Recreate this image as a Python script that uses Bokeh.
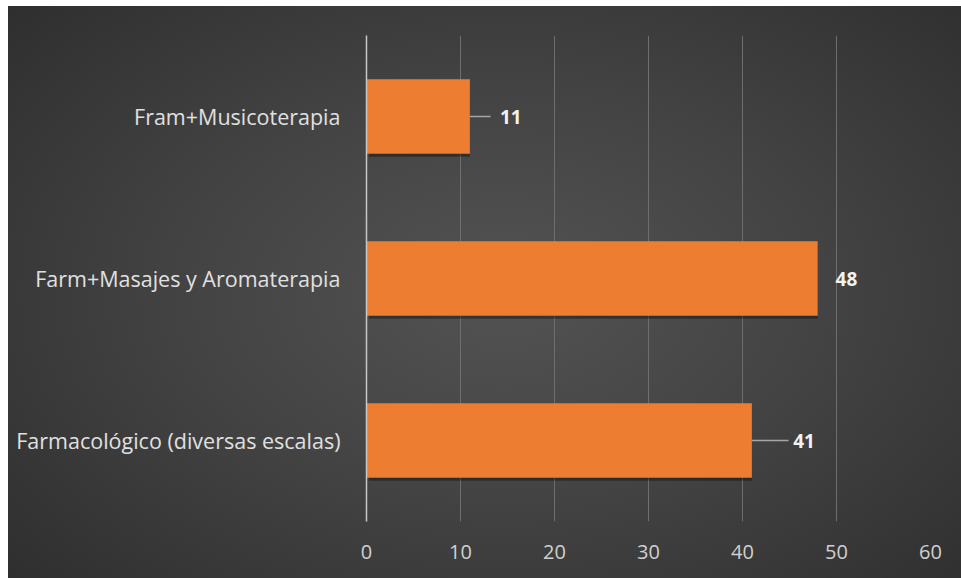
from bokeh.plotting import figure
from bokeh.models import ColumnDataSource, FactorRange, Range1d, FixedTicker
from bokeh.transform import dodge
from bokeh.core.properties import value
from bokeh.embed import file_html
from bokeh.resources import INLINE

# Treatment groups (bottom to top) and their counts
categories = ["Farmacológico (diversas escalas)", "Farm+Masajes y Aromaterapia", "Fram+Musicoterapia"]
counts = [41, 48, 11]
x_ticks = [0, 10, 20, 30, 40, 50, 60]

# data-label placement: leader length and text gap (in axis units)
leader = [3.9, 0.0, 2.2]
gap = [0.5, 1.9, 1.0]

FONT = "Open Sans"
BAR = "#ED7D31"

src = ColumnDataSource(dict(
    cat=categories,
    val=counts,
    line_end=[v + l for v, l in zip(counts, leader)],
    label_x=[v + l + g for v, l, g in zip(counts, leader, gap)],
    label=[str(v) for v in counts],
))

p = figure(
    width=953, height=572,
    y_range=FactorRange(*categories, range_padding=0),
    x_range=Range1d(0, 60),
    output_backend="svg", toolbar_location=None,
    min_border_left=358, min_border_right=31,
    min_border_top=29, min_border_bottom=57,
    margin=(6, 0, 0, 8),
    styles={"background": "radial-gradient(ellipse 75% 80% at 52% 50%, #535353 0%, #434343 45%, #2c2c2c 100%)"},
)
p.border_fill_alpha = 0
p.background_fill_alpha = 0
p.outline_line_color = None

# soft drop shadow under each bar
p.hbar(y=dodge("cat", -0.018, range=p.y_range), left=0.25,
       right="val", height=0.46, source=src,
       fill_color="black", fill_alpha=0.35, line_color=None)
p.hbar(y="cat", left=0, right="val", height=0.46, source=src,
       fill_color=BAR, line_color=None)

# leader lines and value labels
p.segment(x0="val", y0="cat", x1="line_end", y1="cat", source=src,
          line_color="#a6a6a6", line_width=1.5)
p.text(x="label_x", y="cat", text="label", source=src,
       text_font=value(FONT), text_font_size="19px", text_font_style="bold",
       text_color="#f2f2f2", text_baseline="middle", text_align="left")

p.xgrid.ticker = FixedTicker(ticks=x_ticks)
p.xgrid.grid_line_color = "#6e6e6e"
p.xgrid.grid_line_width = 1
p.ygrid.grid_line_color = None

p.xaxis.ticker = FixedTicker(ticks=x_ticks)
p.xaxis.axis_line_color = None
p.xaxis.major_tick_line_color = None
p.xaxis.minor_tick_line_color = None
p.xaxis.major_label_text_color = "#d0d0d0"
p.xaxis.major_label_text_font = FONT
p.xaxis.major_label_text_font_size = "20px"
p.xaxis.major_label_standoff = 17

p.yaxis.axis_line_color = "#c8c8c8"
p.yaxis.axis_line_width = 1.5
p.yaxis.major_tick_line_color = None
p.yaxis.minor_tick_line_color = None
p.yaxis.major_label_text_color = "#e0e0e0"
p.yaxis.major_label_text_font = FONT
p.yaxis.major_label_text_font_size = "21.5px"
p.yaxis.major_label_standoff = 20

open("out.html", "w").write(file_html(p, INLINE))
